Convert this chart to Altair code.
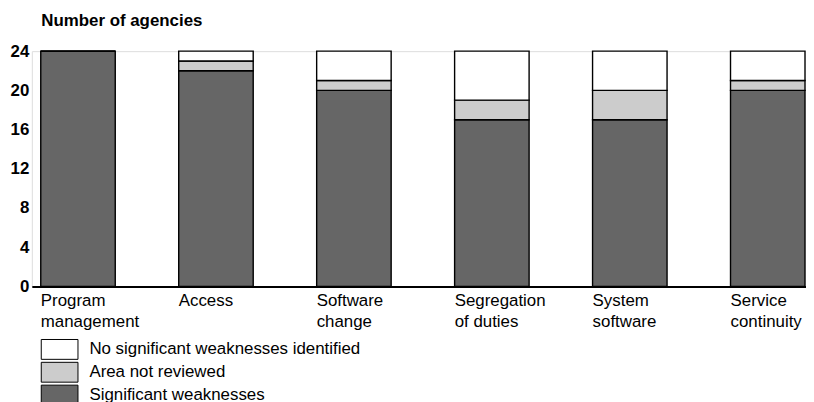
import altair as alt
import pandas as pd

categories = ["Program management", "Access", "Software change",
              "Segregation of duties", "System software", "Service continuity"]
significant = [24, 22, 20, 17, 17, 20]
not_reviewed = [0, 1, 1, 2, 3, 1]
no_weakness = [0, 1, 3, 5, 4, 3]

series_names = ["No significant weaknesses identified", "Area not reviewed", "Significant weaknesses"]
series_colors = ["#ffffff", "#cccccc", "#666666"]
stack_rank = {"Significant weaknesses": 0, "Area not reviewed": 1,
              "No significant weaknesses identified": 2}

rows = []
for i, c in enumerate(categories):
    for name, vals in [("Significant weaknesses", significant),
                       ("Area not reviewed", not_reviewed),
                       ("No significant weaknesses identified", no_weakness)]:
        rows.append({"area": c, "status": name, "count": vals[i], "rank": stack_rank[name]})
df = pd.DataFrame(rows)

FONT = "Liberation Sans"
FS = 17

label_expr = ("indexof(datum.label, ' ') < 0 ? datum.label : "
              "[substring(datum.label, 0, indexof(datum.label, ' ')), "
              "substring(datum.label, indexof(datum.label, ' ') + 1)]")

chart = alt.Chart(df).mark_bar(stroke="black", strokeWidth=1.4).encode(
    x=alt.X("area:N", sort=categories,
            scale=alt.Scale(paddingInner=0.46, paddingOuter=0.036, align=0.9),
            axis=alt.Axis(title=None, labelAngle=0, labelAlign="left", labelOffset=-37.5,
                          labelBaseline="top", labelPadding=6, labelLineHeight=21,
                          labelFont=FONT, labelFontSize=FS, labelColor="black",
                          labelExpr=label_expr, labelOverlap=False, labelBound=False,
                          ticks=False, domainColor="black", domainWidth=2)),
    y=alt.Y("count:Q", stack="zero",
            scale=alt.Scale(domain=[0, 24], nice=False),
            axis=alt.Axis(title="Number of agencies", titleAngle=0, titleAlign="left",
                          titleBaseline="alphabetic", titleX=9, titleY=-26,
                          titleFont=FONT, titleFontSize=FS, titleFontWeight="bold",
                          titleColor="black",
                          values=[0, 4, 8, 12, 16, 20, 24], grid=False, domain=False,
                          ticks=False, labelPadding=3, labelFont=FONT, labelFontSize=FS,
                          labelFontWeight="bold", labelColor="black")),
    color=alt.Color("status:N",
                    scale=alt.Scale(domain=series_names, range=series_colors),
                    legend=alt.Legend(title=None, orient="none", legendX=17.5, legendY=290,
                                      direction="vertical",
                                      symbolType="M-1.85,-1H1.85V1H-1.85Z",
                                      symbolSize=400, symbolStrokeColor="black",
                                      symbolStrokeWidth=1, symbolOpacity=1,
                                      labelFont=FONT, labelFontSize=FS, labelColor="black",
                                      labelOffset=19.5, rowPadding=-2.4, padding=0,
                                      labelLimit=400)),
    order=alt.Order("rank:Q", sort="ascending"),
).properties(
    width=780, height=237,
    autosize=alt.AutoSizeParams(type="none"),
    padding={"left": 24, "top": 42, "right": 0, "bottom": 115},
).configure_view(stroke=None).configure(background="white")

chart.save("out.html", embed_options={"renderer": "svg", "actions": False})
